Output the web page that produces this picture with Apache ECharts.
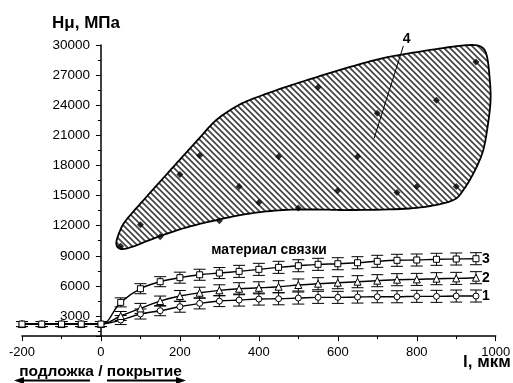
<!DOCTYPE html>
<html><head><meta charset="utf-8">
<script src="https://cdn.jsdelivr.net/npm/echarts@6/dist/echarts.min.js"></script>
<style>html,body{margin:0;padding:0;background:#fff}#c{width:513px;height:383px}</style>
</head><body><div id="c"></div><script>
// ---- data ----
const xValues = [-200,-150,-100,-50,0,50,100,150,200,250,300,350,400,450,500,550,600,650,700,750,800,850,900,950];
const curve1 = [2200,2200,2200,2200,2200,2600,3200,3530,3930,4260,4490,4590,4690,4720,4790,4860,4860,4890,4920,4920,4960,4960,4990,4990];
const curve2 = [2200,2200,2200,2200,2200,3000,3760,4490,4990,5320,5560,5720,5810,5920,6090,6220,6320,6420,6520,6620,6650,6720,6750,6820];
const curve3 = [2200,2200,2200,2200,2200,4360,5720,6420,6820,7110,7280,7450,7650,7850,8010,8150,8210,8310,8450,8550,8580,8650,8680,8710];
const err1 = [250,250,250,250,250,450,500,500,550,550,550,600,600,600,600,600,600,600,600,600,600,600,600,600];
const err2 = [250,250,250,250,250,450,500,500,550,550,550,600,600,600,600,600,600,600,600,600,600,600,600,600];
const err3 = [250,250,250,250,250,450,500,500,550,550,550,600,600,600,600,600,600,600,600,600,600,600,600,600];
const blobPointsX = [50,100,150,200,250,300,350,400,450,500,550,600,650,700,750,800,850,900,950];
const blobPointsY = [9950,12100,10900,17100,19000,12500,15900,14300,18900,13750,25800,15500,18900,23200,15300,15900,24500,15900,28300];
const blobOutlineX = [39,47,64,115,158,199,250,290,335,377,461,547,631,715,801,885,936,964,977,984,987,979,967,944,918,893,834,758,631,547,461,377,293,207,123,85,52];
const blobOutlineY = [10170,11370,12560,14860,16750,18540,20750,22450,23700,24520,25720,26810,27810,28700,29300,29800,30000,29800,29000,27010,24520,21730,19340,17250,15550,14560,13960,13660,13560,13610,13560,13210,12560,11720,10570,9970,9670];
const leaderX = [766,692];
const leaderY = [29900,20700];
const xTicks = {min:-200, max:1000, interval:200};
const yTicks = {min:1000, max:30000};

const FONT = '"Liberation Sans", Arial, sans-serif';
const GRID = {left:22, right:17.3, top:45, bottom:46.9};
const CW = 513;

// hatch pattern
const pc = document.createElement('canvas'); pc.width = 6; pc.height = 6;
const pctx = pc.getContext('2d');
pctx.strokeStyle = '#444'; pctx.lineWidth = 1.7;
pctx.beginPath();
pctx.moveTo(-2,-2); pctx.lineTo(8,8);
pctx.moveTo(-2,4); pctx.lineTo(2,8);
pctx.moveTo(4,-2); pctx.lineTo(8,2);
pctx.stroke();

function pairs(xs, ys, es){ return xs.map((x,i)=> es ? [x, ys[i], es[i]] : [x, ys[i]]); }

// closed Catmull-Rom densification in pixel space
function closedSpline(pts, steps){
  const out = [], n = pts.length;
  for (let i = 0; i < n; i++){
    const p0 = pts[(i-1+n)%n], p1 = pts[i], p2 = pts[(i+1)%n], p3 = pts[(i+2)%n];
    for (let s = 0; s < steps; s++){
      const t = s/steps, t2 = t*t, t3 = t2*t;
      out.push([0,1].map(k => 0.5*((2*p1[k]) + (-p0[k]+p2[k])*t + (2*p0[k]-5*p1[k]+4*p2[k]-p3[k])*t2 + (-p0[k]+3*p1[k]-3*p2[k]+p3[k])*t3)));
    }
  }
  return out;
}

function errSeries(ys, es){
  return {
    type:'custom', z:2, silent:true,
    data: pairs(xValues, ys, es),
    renderItem: function(params, api){
      const x = api.value(0), y = api.value(1), e = api.value(2);
      const top = api.coord([x, y+e]), bot = api.coord([x, y-e]);
      const hw = 6;
      return {type:'group', children:[
        {type:'line', shape:{x1:top[0],y1:top[1],x2:bot[0],y2:bot[1]}, style:{stroke:'#000',lineWidth:1}},
        {type:'line', shape:{x1:top[0]-hw,y1:top[1],x2:top[0]+hw,y2:top[1]}, style:{stroke:'#000',lineWidth:1}},
        {type:'line', shape:{x1:bot[0]-hw,y1:bot[1],x2:bot[0]+hw,y2:bot[1]}, style:{stroke:'#000',lineWidth:1}}
      ]};
    }
  };
}

function curveSeries(ys, symbol, size, label){
  return {
    type:'line', z:4, data: pairs(xValues, ys), smooth:0.4,
    symbol: symbol, symbolSize: size, showAllSymbol:true,
    itemStyle:{color:'#fff', borderColor:'#000', borderWidth:1},
    lineStyle:{color:'#000', width:1.4},
    endLabel:{show:true, formatter:label, color:'#000', fontFamily:FONT, fontWeight:'bold', fontSize:14, distance:6},
    emphasis:{disabled:true}, animation:false
  };
}

// y axis drawn at x = 0 of the x axis
const gridW = CW - GRID.left - GRID.right;
const yAxisOffset = -gridW * (0 - xTicks.min) / (xTicks.max - xTicks.min);

const chart = echarts.init(document.getElementById('c'), null, {renderer:'canvas'});
chart.setOption({
  animation:false,
  backgroundColor:'#fff',
  grid:Object.assign({containLabel:false, outerBoundsMode:'none'}, GRID),
  xAxis:{
    type:'value', min:xTicks.min, max:xTicks.max, interval:xTicks.interval,
    axisLine:{onZero:false, lineStyle:{color:'#000', width:1.5}},
    axisTick:{length:5, lineStyle:{color:'#000', width:1}},
    minorTick:{show:true, splitNumber:2, length:3, lineStyle:{color:'#000', width:1}},
    splitLine:{show:false},
    axisLabel:{color:'#000', fontFamily:FONT, fontSize:13, margin:10, formatter:v=>String(v)}
  },
  yAxis:{
    type:'value', min:yTicks.min, max:yTicks.max, splitNumber:10,
    position:'left', offset:yAxisOffset,
    axisLine:{show:true, onZero:false, lineStyle:{color:'#000', width:1.5}},
    axisTick:{show:true, length:5, lineStyle:{color:'#000', width:1}},
    minorTick:{show:true, splitNumber:2, length:3, lineStyle:{color:'#000', width:1}},
    splitLine:{show:false},
    axisLabel:{color:'#000', fontFamily:FONT, fontSize:13.5, margin:11, showMinLabel:false, formatter:v=>String(v)}
  },
  series:[
    {
      type:'custom', z:1, silent:true, data:[[blobOutlineX[0], blobOutlineY[0]]],
      renderItem:function(params, api){
        const pts = blobOutlineX.map((x,i)=>api.coord([x, blobOutlineY[i]]));
        return {type:'polygon', shape:{points:closedSpline(pts, 8)},
          style:{fill:{image:pc, repeat:'repeat'}, stroke:'#000', lineWidth:1.8, lineJoin:'round'}};
      }
    },
    {type:'scatter', z:3, data:pairs(blobPointsX, blobPointsY), symbol:'diamond', symbolSize:7,
      itemStyle:{color:'#000'}, silent:true},
    {type:'line', z:3, data:pairs(leaderX, leaderY), symbol:'none', lineStyle:{color:'#000', width:1}, silent:true},
    errSeries(curve1, err1), errSeries(curve2, err2), errSeries(curve3, err3),
    curveSeries(curve1, 'circle', 6, '1'),
    curveSeries(curve2, 'triangle', 7, '2'),
    curveSeries(curve3, 'rect', 6, '3')
  ],
  graphic:[
    {type:'text', x:86, y:23, style:{text:'Hμ, МПа', font:'bold 17px '+FONT, textAlign:'center', textVerticalAlign:'middle', fill:'#000'}},
    {type:'text', x:487, y:362, style:{text:'l, мкм', font:'bold 17px '+FONT, textAlign:'center', textVerticalAlign:'middle', fill:'#000'}},
    {type:'text', x:269, y:250, style:{text:'материал связки', font:'bold 13.8px '+FONT, textAlign:'center', textVerticalAlign:'middle', fill:'#000'}},
    {type:'text', x:406.7, y:38.7, style:{text:'4', font:'bold 14px '+FONT, textAlign:'center', textVerticalAlign:'middle', fill:'#000'}},
    {type:'text', x:100.5, y:372, style:{text:'подложка / покрытие', font:'bold 15.5px '+FONT, textAlign:'center', textVerticalAlign:'middle', fill:'#000'}},
    {type:'line', shape:{x1:22, y1:380.5, x2:90, y2:380.5}, style:{stroke:'#000', lineWidth:1.8}},
    {type:'polygon', shape:{points:[[14,380.5],[24,377],[24,384]]}, style:{fill:'#000'}},
    {type:'line', shape:{x1:107, y1:380.5, x2:177, y2:380.5}, style:{stroke:'#000', lineWidth:1.8}},
    {type:'polygon', shape:{points:[[186,380.5],[176,377],[176,384]]}, style:{fill:'#000'}}
  ]
});
</script></body></html>
